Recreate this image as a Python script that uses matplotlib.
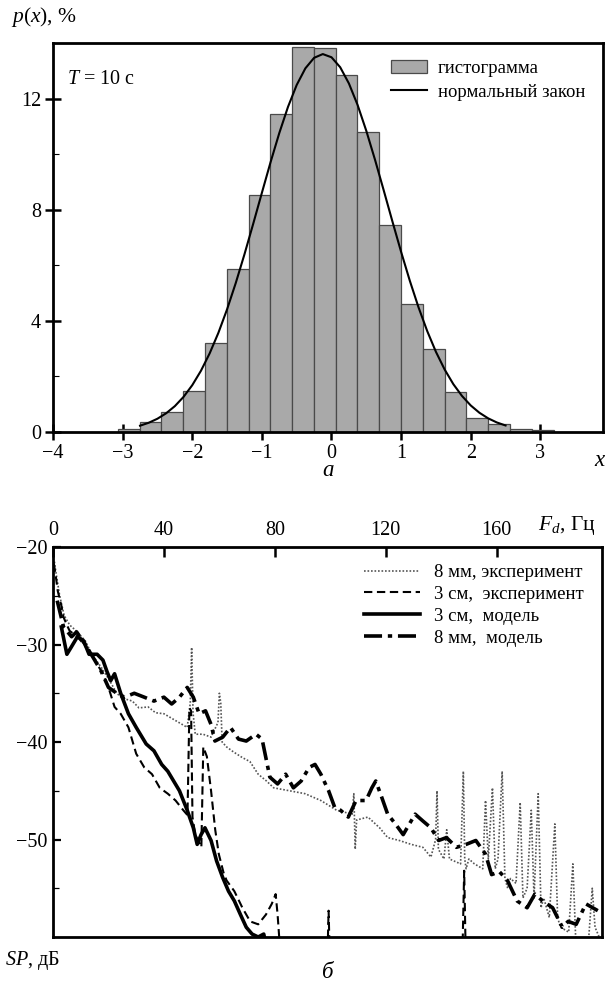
import matplotlib
matplotlib.use("Agg")
import matplotlib.pyplot as plt
from matplotlib.ticker import FixedLocator

plt.rcParams['font.family'] = ['Liberation Serif', 'DejaVu Serif']
plt.rcParams['mathtext.fontset'] = 'custom'
plt.rcParams['mathtext.rm'] = 'Liberation Serif'
plt.rcParams['mathtext.it'] = 'Liberation Serif:italic'

# ---------------- panel a: histogram ----------------
bin_edges = [-3.07, -2.757, -2.444, -2.131, -1.818, -1.505, -1.192, -0.879, -0.566,
             -0.253, 0.060, 0.373, 0.686, 0.999, 1.312, 1.625, 1.938, 2.251, 2.564,
             2.877, 3.19]
hist_vals = [0.10, 0.37, 0.73, 1.48, 3.19, 5.85, 8.52, 11.43, 13.85, 13.81,
             12.85, 10.79, 7.46, 4.60, 3.00, 1.45, 0.51, 0.29, 0.10, 0.08]

norm_x = [-2.75, -2.625, -2.5, -2.375, -2.25, -2.125, -2.0, -1.875, -1.75, -1.625,
          -1.5, -1.375, -1.25, -1.125, -1.0, -0.875, -0.75, -0.625, -0.5, -0.375,
          -0.25, -0.125, 0.0, 0.125, 0.25, 0.375, 0.5, 0.625, 0.75, 0.875, 1.0,
          1.125, 1.25, 1.375, 1.5, 1.625, 1.75, 1.875, 2.0, 2.125, 2.25, 2.375, 2.5]
norm_y = [0.228, 0.334, 0.479, 0.675, 0.932, 1.265, 1.686, 2.205, 2.831, 3.568,
          4.415, 5.364, 6.397, 7.489, 8.607, 9.712, 10.757, 11.699, 12.488, 13.088,
          13.465, 13.600, 13.485, 13.126, 12.543, 11.768, 10.837, 9.798, 8.697,
          7.578, 6.482, 5.443, 4.487, 3.632, 2.886, 2.251, 1.723, 1.296, 0.956,
          0.693, 0.493, 0.344, 0.236]

x_ticks_a = [-4, -3, -2, -1, 0, 1, 2, 3]
y_ticks_a = [0, 4, 8, 12]

# ---------------- panel б: spectra ----------------
f_8mm_exp = [0.5, 1, 2.4, 4, 6, 8, 11.6, 14, 17.3, 20, 23, 25, 28.6, 31, 34.3, 37, 40,
             44.2, 48.4, 49.5, 50, 50.5, 51.3, 54.1, 57, 59.5, 60, 60.5, 61, 62.6, 65,
             68.3, 71, 74, 77, 79.6, 85.3, 90.9, 96.6, 102.3, 107.9, 108.5, 109, 109.5,
             113.6, 117.8, 120.7, 124.9, 129.2, 133.4, 136.3, 138, 138.5, 139, 141, 142,
             143, 147, 148, 148.5, 149, 150, 152, 155, 156, 157, 158.5, 159.5, 160.5,
             162, 163, 164, 165, 167, 168.5, 169.5, 171, 172.5, 173.5, 175, 176, 177,
             179, 181, 182, 183, 186, 187.5, 188.5, 191, 193, 194.5, 195.5, 197]
v_8mm_exp = [-21.5, -22.5, -25, -27, -28, -28.5, -29.6, -31, -32.3, -33.5, -35, -35.5,
             -35.8, -36.5, -36.4, -37, -37.1, -37.8, -38.5, -36, -30.3, -37, -39.2,
             -39.2, -39.5, -38, -35, -36, -40, -40.5, -41, -41.6, -42, -43.3, -44,
             -44.7, -45, -45.3, -46, -47, -47.4, -45.3, -51, -48, -47.7, -48.8, -49.8,
             -50.1, -50.5, -50.8, -51.8, -50, -45, -51, -52, -49, -52, -52.5, -43, -52,
             -53, -52, -52.5, -53, -46, -52, -44.7, -53, -52, -43, -54, -55, -54, -54.5,
             -46.2, -56, -55, -47, -56, -45.3, -57, -56, -58, -48.4, -58, -59, -59.5,
             -52.5, -60, -60.5, -61, -55, -59, -60]

f_3cm_exp = [0.3, 1, 1.7, 3, 3.8, 5, 6, 8.8, 10.9, 14.4, 18, 20, 22.2, 24.4, 27.2, 30,
             32.9, 35.7, 38.5, 41.4, 44.2, 47, 48.5, 49.2, 49.8, 50.3, 51.3, 53.5, 54.2,
             55.5, 57, 58.5, 59.8, 61.5, 62.6, 65.4, 68.3, 71.1, 74, 76.8, 78.9, 80.3,
             81, 81.7, 83, 95, 98.8, 99.4, 100, 101, 140, 147.5, 148.3, 149, 150, 197]
v_3cm_exp = [-21.7, -23, -24.5, -26, -27.2, -28, -28.6, -29.2, -29.9, -31.3, -33, -34.4,
             -36.4, -37.1, -38.5, -41.2, -42.6, -43.3, -44.7, -45.3, -46, -47, -47.5,
             -36.5, -36.8, -47.7, -49.5, -50.8, -40.5, -41.5, -45, -49, -51.5, -53.4,
             -54.2, -55.3, -57, -58.4, -58.7, -57.7, -56.6, -55.6, -57.7, -60.5, -64,
             -64, -64, -57.3, -64, -64, -64, -64, -53.2, -64, -64, -64]

f_3cm_mod = [3, 5, 6.5, 8.8, 11, 13, 15.9, 18, 19.5, 20.8, 22.2, 24.4, 27.2, 30, 33.6,
             36.4, 39.2, 41.4, 43.5, 45.6, 48.4, 50.6, 52, 53.4, 54.8, 57, 59, 61.2,
             63.3, 65.4, 67.6, 69.7, 71.8, 74, 76, 77]
v_3cm_mod = [-28.2, -31, -30.3, -29.2, -29.6, -31, -31, -31.6, -32.8, -33.7, -33, -35,
             -37.1, -38.5, -40.2, -40.9, -42.3, -43, -44, -45, -47, -48.8, -50.5, -49.5,
             -48.8, -50.1, -52.2, -53.9, -55.3, -56.3, -57.7, -59, -59.7, -60, -59.7,
             -61]

f_8mm_mod = [1.5, 3.8, 6.7, 8.5, 11.6, 14.4, 17.3, 20, 23, 25.8, 29.3, 32.9, 36.4, 40,
             42.8, 45.6, 48.4, 50.6, 52.7, 55, 57, 58.4, 61.2, 64, 66.9, 69.7, 73.2,
             75.4, 78.2, 81, 83.9, 86.7, 89.5, 92.4, 94.5, 96.6, 99.4, 101.6, 103.7,
             106.5, 109.3, 112.9, 115, 116.4, 118.6, 120.7, 123.5, 126.3, 130.6, 133.4,
             136.3, 139.1, 141.9, 145.5, 149, 152.5, 156, 158.2, 161, 163.9, 167.4, 171,
             173.8, 176.6, 180.2, 183.7, 185.8, 188.7, 192.2, 196.5]
v_8mm_mod = [-25.5, -28.2, -29.2, -28.7, -30, -31.3, -32.7, -34.4, -35, -35.4, -35,
             -35.4, -35.8, -35.4, -36.1, -35.4, -34.4, -35.4, -37.1, -36.8, -38.2, -39.9,
             -39.5, -38.5, -39.7, -39.9, -39.2, -39.7, -43.6, -44.3, -43.3, -44.7, -44,
             -42.6, -42.3, -43.3, -45, -46.7, -47, -47.7, -46, -46, -44.7, -44, -45.7,
             -47.4, -48.4, -49.5, -47.4, -48.1, -48.8, -50.1, -49.8, -50.8, -50.5,
             -50.1, -51.5, -53.6, -53.3, -54.2, -56.3, -57, -55.6, -56.3, -57, -59,
             -58.4, -58.7, -56.6, -57.3]

x_ticks_b = [0, 40, 80, 120, 160]
y_ticks_b = [-20, -30, -40, -50]

# ---------------- figure ----------------
fig = plt.figure(figsize=(6.13, 9.83), dpi=100)
FS = 14.5

ax1 = fig.add_axes([0.0865, 0.5605, 0.9837 - 0.0865, 0.9563 - 0.5605])
widths = [bin_edges[i + 1] - bin_edges[i] for i in range(len(hist_vals))]
bars = ax1.bar(bin_edges[:-1], hist_vals, width=widths, align='edge', color='#a9a9a9',
               edgecolor='#4a4a4a', linewidth=0.9, zorder=2)
curve, = ax1.plot(norm_x, norm_y, color='black', lw=1.5, zorder=3)
ax1.set_xlim(-4, 3.9)
ax1.set_ylim(0, 14)
ax1.set_xticks(x_ticks_a)
ax1.set_yticks(y_ticks_a)
ax1.yaxis.set_minor_locator(FixedLocator([2, 6, 10]))
ax1.tick_params(axis='both', which='major', direction='inout', length=11, width=1.8,
                labelsize=FS, pad=3)
ax1.tick_params(axis='y', which='minor', direction='in', length=4, width=0.8)
for s in ax1.spines.values():
    s.set_linewidth(2.0)
    s.set_zorder(5)
ax1.legend([bars, curve], ['гистограмма', 'нормальный закон'], loc='upper right',
           frameon=False, fontsize=13.5, handlelength=1.9, handletextpad=0.6,
           labelspacing=0.35, borderaxespad=0.4, bbox_to_anchor=(0.995, 0.995))
ax1.text(0.025, 0.905, r'$T$ = 10 с', transform=ax1.transAxes, fontsize=FS,
         ha='left', va='center')
fig.text(0.018, 0.983, r'$p$($x$), %', fontsize=FS + 1, ha='left', va='center')
fig.text(0.979, 0.532, r'$x$', fontsize=FS + 2, ha='center', va='center')
fig.text(0.535, 0.521, 'а', fontsize=FS + 2, ha='center', va='center', style='italic')

ax2 = fig.add_axes([0.0865, 0.0468, 0.982 - 0.0865, 0.4435 - 0.0468])
ax2.plot(f_8mm_exp, v_8mm_exp, color='#555555', lw=1.2, ls=(0, (1, 1.1)),
         label='8 мм, эксперимент', zorder=2)
ax2.plot(f_3cm_exp, v_3cm_exp, color='black', lw=1.5, ls=(0, (4, 2.2)),
         label='3 см,  эксперимент', zorder=3)
ax2.plot(f_3cm_mod, v_3cm_mod, color='black', lw=2.6, ls='-',
         label='3 см,  модель', zorder=4)
ax2.plot(f_8mm_mod, v_8mm_mod, color='black', lw=2.6, ls=(0, (5, 1.6, 1.2, 1.6)),
         label='8 мм,  модель', zorder=4)
ax2.set_xlim(0, 198)
ax2.set_ylim(-60, -20)
ax2.xaxis.tick_top()
ax2.set_xticks(x_ticks_b)
ax2.set_yticks(y_ticks_b)
ax2.yaxis.set_minor_locator(FixedLocator([-25, -35, -45, -55]))
ax2.tick_params(axis='x', which='major', direction='in', length=7, width=1.8,
                labelsize=FS, pad=5, top=True, bottom=False)
ax2.tick_params(axis='y', which='major', direction='in', length=6, width=1.6,
                labelsize=FS, pad=4)
ax2.tick_params(axis='y', which='minor', direction='in', length=4, width=0.9)
for s in ax2.spines.values():
    s.set_linewidth(2.0)
    s.set_zorder(5)
ax2.legend(loc='upper right', frameon=False, fontsize=13.5, handlelength=3.0,
           handletextpad=0.7, labelspacing=0.25, borderaxespad=0.3,
           bbox_to_anchor=(0.99, 0.99))
fig.text(0.925, 0.465, r'$F_d$, Гц', fontsize=FS + 1, ha='center', va='center')
fig.text(0.008, 0.023, r'$SP$, дБ', fontsize=FS, ha='left', va='center')
fig.text(0.535, 0.011, 'б', fontsize=FS + 2, ha='center', va='center', style='italic')

fig.savefig('out.png', dpi=100)
